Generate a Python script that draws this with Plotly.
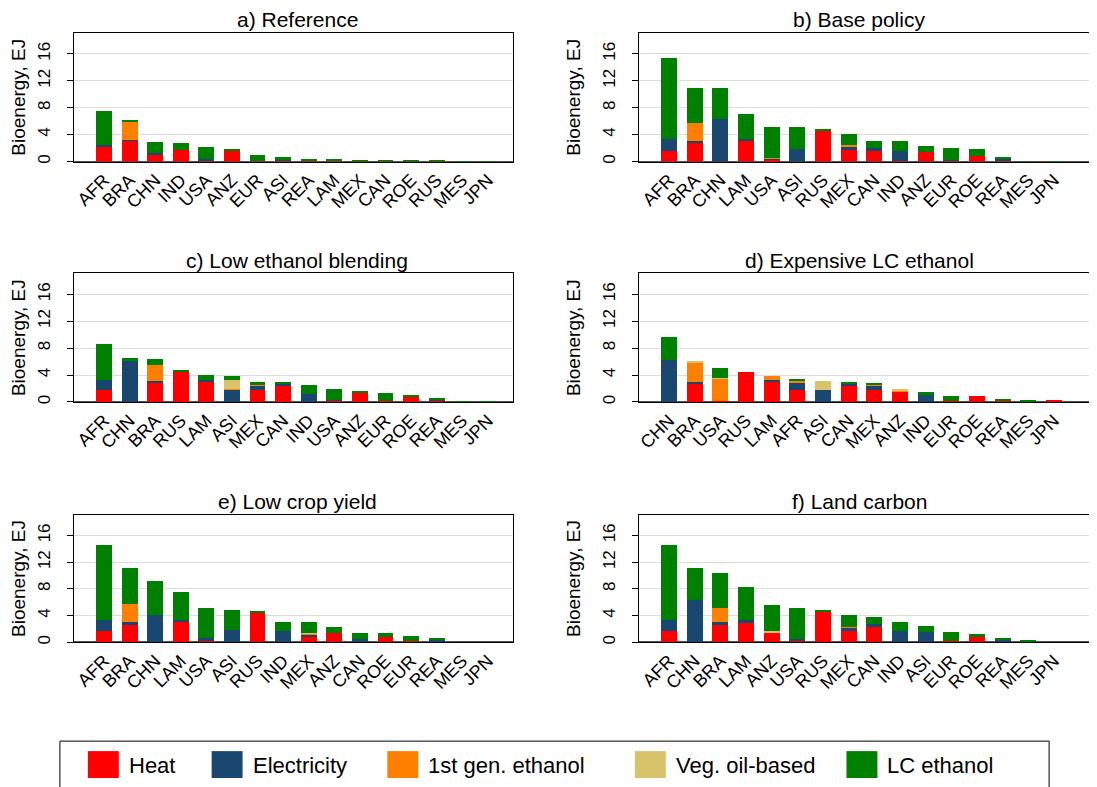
import plotly.graph_objects as go

# ---------------- DATA ----------------
series_names = ["Heat", "Electricity", "1st gen. ethanol", "Veg. oil-based", "LC ethanol"]
series_colors = ["#FF0000", "#1A476F", "#FF8000", "#D9C36A", "#008000"]

titles = ["a) Reference", "b) Base policy", "c) Low ethanol blending",
          "d) Expensive LC ethanol", "e) Low crop yield", "f) Land carbon"]

# a) Reference
a_regions = ["AFR", "BRA", "CHN", "IND", "USA", "ANZ", "EUR", "ASI", "REA", "LAM", "MEX", "CAN", "ROE", "RUS", "MES", "JPN"]
a_heat = [2.2, 3.1, 1.05, 1.7, 0.2, 1.6, 0.1, 0.1, 0.1, 0.1, 0.05, 0.05, 0.05, 0.05, 0.0, 0.0]
a_elec = [0.3, 0.1, 0.3, 0.0, 0.25, 0.0, 0.05, 0.1, 0.1, 0.0, 0.0, 0.0, 0.0, 0.0, 0.0, 0.0]
a_eth1 = [0.0, 2.7, 0.0, 0.0, 0.0, 0.0, 0.0, 0.0, 0.0, 0.0, 0.0, 0.0, 0.0, 0.0, 0.0, 0.0]
a_veg = [0.0] * 16
a_lc = [5.05, 0.3, 1.5, 1.0, 1.65, 0.3, 0.85, 0.55, 0.25, 0.25, 0.15, 0.15, 0.15, 0.15, 0.1, 0.1]

# b) Base policy
b_regions = ["AFR", "BRA", "CHN", "LAM", "USA", "ASI", "RUS", "MEX", "CAN", "IND", "ANZ", "EUR", "ROE", "REA", "MES", "JPN"]
b_heat = [1.6, 2.7, 0.0, 3.05, 0.25, 0.0, 4.55, 1.65, 1.55, 0.05, 1.4, 0.15, 0.8, 0.2, 0.0, 0.0]
b_elec = [1.7, 0.4, 6.3, 0.3, 0.25, 1.8, 0.0, 0.65, 0.4, 1.5, 0.0, 0.1, 0.0, 0.25, 0.0, 0.0]
b_eth1 = [0.0, 2.7, 0.0, 0.0, 0.05, 0.0, 0.0, 0.15, 0.0, 0.0, 0.0, 0.0, 0.0, 0.0, 0.0, 0.0]
b_veg = [0.0] * 16
b_lc = [12.15, 5.2, 4.7, 3.75, 4.65, 3.3, 0.3, 1.7, 1.05, 1.45, 0.85, 1.7, 1.0, 0.3, 0.1, 0.1]

# c) Low ethanol blending
c_regions = ["AFR", "CHN", "BRA", "RUS", "LAM", "ASI", "MEX", "CAN", "IND", "USA", "ANZ", "EUR", "ROE", "REA", "MES", "JPN"]
c_heat = [1.8, 0.0, 2.75, 4.4, 3.05, 0.0, 1.8, 2.4, 0.0, 0.2, 1.4, 0.15, 0.7, 0.15, 0.0, 0.0]
c_elec = [1.5, 6.1, 0.3, 0.0, 0.15, 1.85, 0.55, 0.35, 1.25, 0.1, 0.0, 0.0, 0.0, 0.1, 0.0, 0.0]
c_eth1 = [0.0, 0.0, 2.45, 0.0, 0.0, 0.15, 0.15, 0.0, 0.0, 0.0, 0.0, 0.0, 0.0, 0.0, 0.0, 0.0]
c_veg = [0.0, 0.0, 0.0, 0.0, 0.0, 1.2, 0.0, 0.0, 0.0, 0.0, 0.0, 0.0, 0.0, 0.0, 0.0, 0.0]
c_lc = [5.3, 0.5, 0.95, 0.35, 0.85, 0.65, 0.4, 0.1, 1.25, 1.65, 0.3, 1.2, 0.4, 0.4, 0.1, 0.1]

# d) Expensive LC ethanol
d_regions = ["CHN", "BRA", "USA", "RUS", "LAM", "AFR", "ASI", "CAN", "MEX", "ANZ", "IND", "EUR", "ROE", "REA", "MES", "JPN"]
d_heat = [0.0, 2.75, 0.1, 4.45, 3.05, 1.85, 0.0, 2.4, 1.8, 1.45, 0.0, 0.1, 0.85, 0.1, 0.0, 0.15]
d_elec = [6.2, 0.2, 0.1, 0.0, 0.15, 1.05, 1.8, 0.3, 0.55, 0.0, 1.0, 0.0, 0.0, 0.0, 0.0, 0.0]
d_eth1 = [0.0, 2.9, 3.25, 0.0, 0.6, 0.25, 0.0, 0.0, 0.15, 0.15, 0.0, 0.0, 0.0, 0.1, 0.0, 0.0]
d_veg = [0.0, 0.3, 0.05, 0.0, 0.0, 0.0, 1.35, 0.0, 0.0, 0.2, 0.0, 0.0, 0.0, 0.0, 0.0, 0.0]
d_lc = [3.45, 0.0, 1.55, 0.0, 0.0, 0.25, 0.0, 0.2, 0.15, 0.0, 0.55, 0.85, 0.0, 0.2, 0.15, 0.0]

# e) Low crop yield
e_regions = ["AFR", "BRA", "CHN", "LAM", "USA", "ASI", "RUS", "IND", "MEX", "ANZ", "CAN", "ROE", "EUR", "REA", "MES", "JPN"]
e_heat = [1.65, 2.65, 0.0, 3.0, 0.25, 0.0, 4.45, 0.0, 0.85, 1.45, 0.05, 0.75, 0.2, 0.2, 0.0, 0.0]
e_elec = [1.65, 0.45, 4.05, 0.35, 0.35, 1.8, 0.0, 1.75, 0.35, 0.0, 0.4, 0.0, 0.0, 0.25, 0.0, 0.0]
e_eth1 = [0.0, 2.7, 0.0, 0.0, 0.0, 0.0, 0.0, 0.0, 0.2, 0.0, 0.0, 0.0, 0.0, 0.0, 0.0, 0.0]
e_veg = [0.0, 0.0, 0.0, 0.0, 0.0, 0.0, 0.0, 0.0, 0.05, 0.0, 0.0, 0.0, 0.0, 0.0, 0.0, 0.0]
e_lc = [11.2, 5.4, 5.15, 4.15, 4.6, 3.1, 0.25, 1.35, 1.65, 0.8, 0.9, 0.6, 0.75, 0.25, 0.1, 0.1]

# f) Land carbon
f_regions = ["AFR", "CHN", "BRA", "LAM", "ANZ", "USA", "RUS", "MEX", "CAN", "IND", "ASI", "EUR", "ROE", "REA", "MES", "JPN"]
f_heat = [1.7, 0.0, 2.6, 2.85, 1.5, 0.25, 4.6, 1.7, 2.3, 0.0, 0.0, 0.2, 0.75, 0.2, 0.0, 0.0]
f_elec = [1.65, 6.3, 0.45, 0.45, 0.0, 0.3, 0.0, 0.5, 0.45, 1.7, 1.6, 0.0, 0.0, 0.2, 0.0, 0.0]
f_eth1 = [0.0, 0.0, 2.15, 0.0, 0.0, 0.0, 0.0, 0.15, 0.0, 0.0, 0.0, 0.0, 0.0, 0.0, 0.1, 0.0]
f_veg = [0.0, 0.0, 0.0, 0.0, 0.15, 0.0, 0.0, 0.0, 0.0, 0.0, 0.0, 0.0, 0.0, 0.0, 0.0, 0.0]
f_lc = [11.25, 4.9, 5.2, 5.0, 3.95, 4.65, 0.2, 1.8, 1.1, 1.4, 0.85, 1.3, 0.55, 0.3, 0.2, 0.1]

y_ticks = [0, 4, 8, 12, 16]
y_title = "Bioenergy, EJ"

panels = [
    (a_regions, [a_heat, a_elec, a_eth1, a_veg, a_lc]),
    (b_regions, [b_heat, b_elec, b_eth1, b_veg, b_lc]),
    (c_regions, [c_heat, c_elec, c_eth1, c_veg, c_lc]),
    (d_regions, [d_heat, d_elec, d_eth1, d_veg, d_lc]),
    (e_regions, [e_heat, e_elec, e_eth1, e_veg, e_lc]),
    (f_regions, [f_heat, f_elec, f_eth1, f_veg, f_lc]),
]

# ---------------- LAYOUT ----------------
W, H = 1097, 787
OFF = 8  # page body margin in the browser
FONT = "Liberation Sans, Arial, sans-serif"

def px_x(p):
    return (p - OFF) / W

def px_y(p):
    return 1 - (p - OFF) / H

# pixel geometry (screen) of plot boxes
col_x = [(72, 512), (638, 1097)]
row_y = [(33, 162), (274, 403), (516, 644)]
x_ranges = [[-1.18, 15.99], [-1.175, 16.99]]
title_x = [296, 859]

fig = go.Figure()
layout = dict(
    width=W, height=H,
    margin=dict(l=0, r=0, t=0, b=0),
    paper_bgcolor="white", plot_bgcolor="white",
    barmode="stack",
    showlegend=False,
    font=dict(family=FONT, color="black"),
    annotations=[], shapes=[],
)

for i, (regions, vals) in enumerate(panels):
    r, c = divmod(i, 2)
    ax = "" if i == 0 else str(i + 1)
    for name, color, v in zip(series_names, series_colors, vals):
        fig.add_trace(go.Bar(
            x=regions, y=v, name=name, marker_color=color,
            marker_line_width=0, width=0.62,
            xaxis="x" + ax, yaxis="y" + ax, showlegend=False,
        ))
    x0, x1 = col_x[c]
    yt, yb = row_y[r]
    layout["xaxis" + ax] = dict(
        domain=[px_x(x0), min(1.0, px_x(x1 + OFF))] if c == 1 else [px_x(x0), px_x(x1)],
        anchor="y" + ax,
        type="category", categoryorder="array", categoryarray=regions,
        range=x_ranges[c], tickangle=-45,
        tickfont=dict(size=18, family=FONT, color="black"),
        showline=True, linecolor="black", linewidth=1, mirror=True,
        showgrid=False, ticks="", fixedrange=True,
    )
    layout["yaxis" + ax] = dict(
        domain=[px_y(yb), px_y(yt)], anchor="x" + ax,
        range=[0, 19.1], tickvals=y_ticks, tickangle=-90,
        tickfont=dict(size=17, family=FONT, color="black"),
        ticks="outside", ticklen=6, tickcolor="black", ticklabelstandoff=10,
        showline=True, linecolor="black", linewidth=1,
        mirror=(c == 0),
        showgrid=True, gridcolor="#DCDCDC", gridwidth=1,
        zeroline=True, zerolinecolor="#555555", zerolinewidth=2,
        title=dict(text=y_title, font=dict(size=19, family=FONT, color="black"), standoff=14),
        fixedrange=True,
    )
    layout["annotations"].append(dict(
        text=titles[i], xref="paper", yref="paper",
        x=px_x(title_x[c]), y=px_y(yt - 13), xanchor="center", yanchor="middle",
        showarrow=False, font=dict(size=21, family=FONT, color="black"),
    ))

# ---------------- LEGEND (manual, bottom box) ----------------
layout["shapes"].append(dict(
    type="rect", xref="paper", yref="paper",
    x0=px_x(58), x1=px_x(1049), y0=px_y(805), y1=px_y(743),
    line=dict(color="black", width=1), fillcolor="rgba(0,0,0,0)",
))
swatch_left = [86, 210, 386, 634, 846]
for name, color, sx in zip(series_names, series_colors, swatch_left):
    layout["shapes"].append(dict(
        type="rect", xref="paper", yref="paper",
        x0=px_x(sx), x1=px_x(sx + 31), y0=px_y(780), y1=px_y(753),
        line=dict(width=0), fillcolor=color,
    ))
    layout["annotations"].append(dict(
        text=name, xref="paper", yref="paper",
        x=px_x(sx + 39), y=px_y(767), xanchor="left", yanchor="middle",
        showarrow=False, font=dict(size=22, family=FONT, color="black"),
    ))

fig.update_layout(**layout)
fig.write_html("out.html")
